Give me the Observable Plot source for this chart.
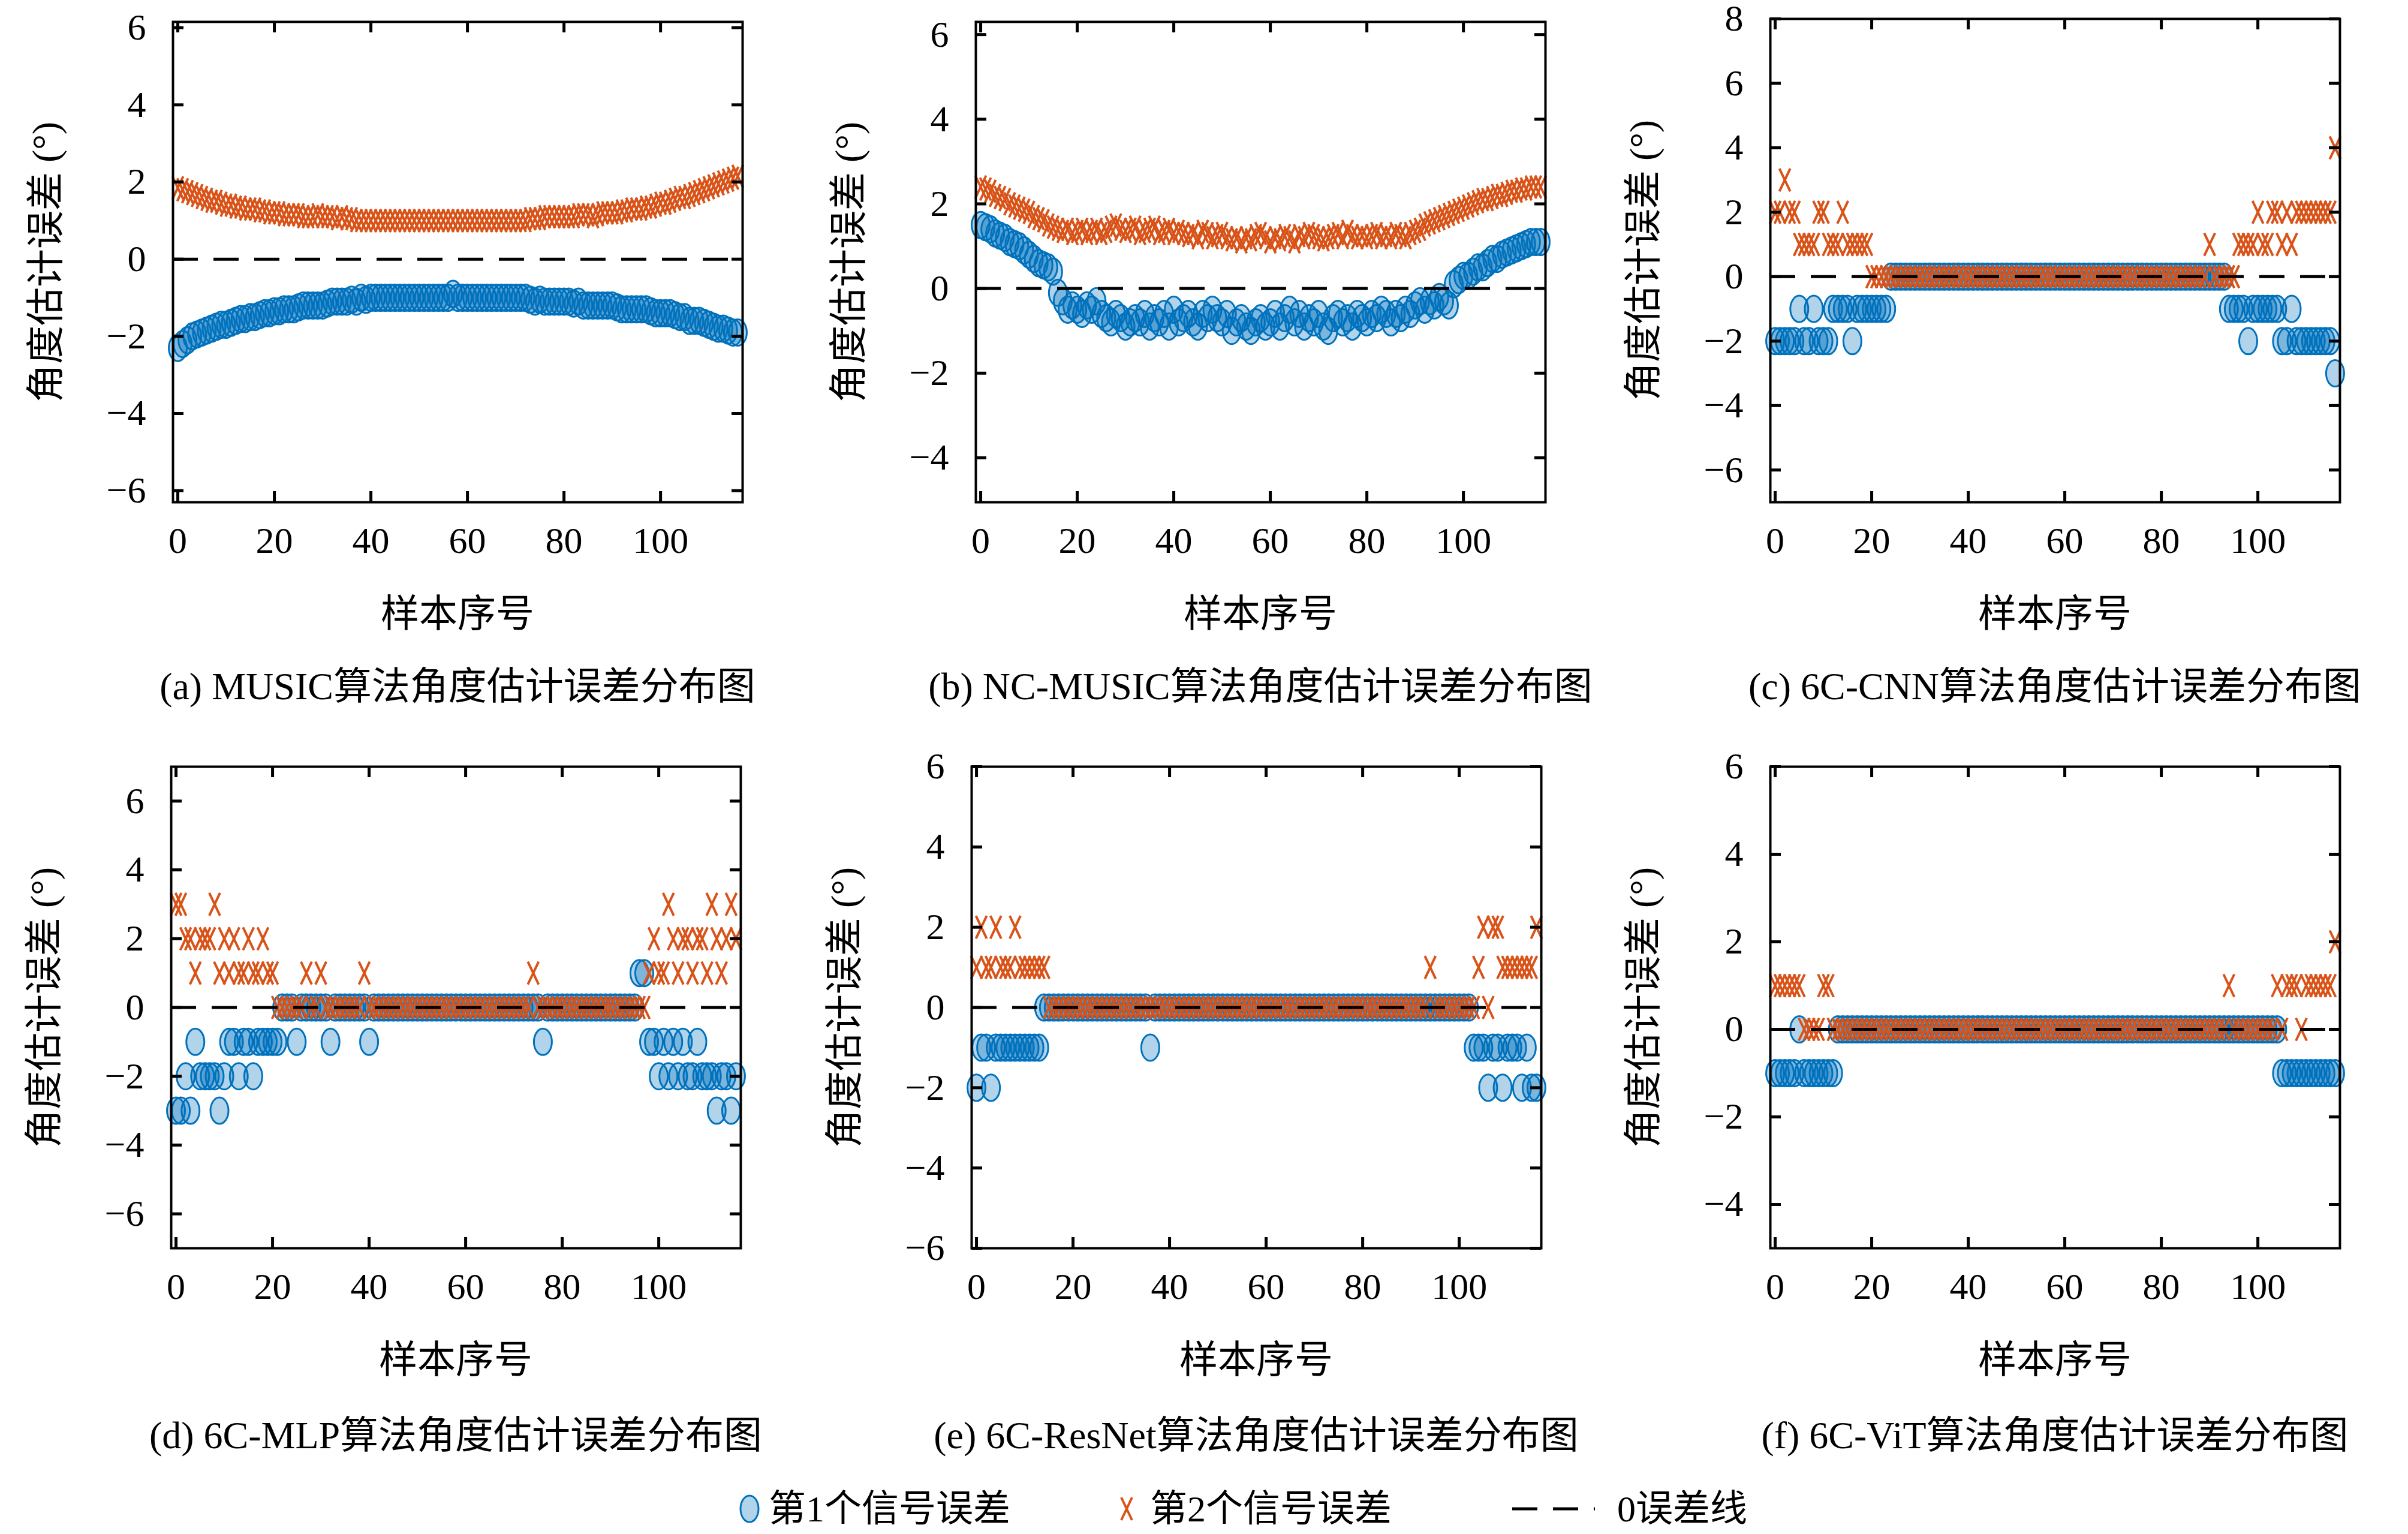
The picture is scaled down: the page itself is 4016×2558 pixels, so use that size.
<!DOCTYPE html>
<html><head><meta charset="utf-8">
<script src="https://cdn.jsdelivr.net/npm/d3@7"></script>
<script src="https://cdn.jsdelivr.net/npm/@observablehq/plot@0.6"></script>
<style>
body{margin:0;background:#fff;}
#root{position:relative;width:4016px;height:2558px;font-family:"Liberation Serif","Noto Sans CJK SC",serif;color:#000;}
.t{position:absolute;white-space:nowrap;font-size:64px;line-height:1;transform:translate(-50%,-50%);}
.p{position:absolute;}
</style></head><body><div id="root"></div>
<script>
const xTicks = [0,20,40,60,80,100];
const a1 = [-2.3,-2.2,-2.1,-2.0,-1.95,-1.9,-1.85,-1.8,-1.75,-1.7,
-1.7,-1.65,-1.6,-1.55,-1.55,-1.5,-1.5,-1.45,-1.4,-1.4,
-1.35,-1.35,-1.3,-1.3,-1.3,-1.25,-1.2,-1.2,-1.2,-1.2,
-1.2,-1.15,-1.1,-1.1,-1.1,-1.1,-1.05,-1.1,-1.0,-1.05,
-1.0,-1.0,-1.0,-1.0,-1.0,-1.0,-1.0,-1.0,-1.0,-1.0,
-1.0,-1.0,-1.0,-1.0,-1.0,-1.0,-1.0,-0.9,-1.0,-1.0,
-1.0,-1.0,-1.0,-1.0,-1.0,-1.0,-1.0,-1.0,-1.0,-1.0,
-1.0,-1.0,-1.0,-1.05,-1.1,-1.05,-1.1,-1.1,-1.1,-1.1,
-1.1,-1.1,-1.15,-1.1,-1.2,-1.2,-1.2,-1.2,-1.2,-1.2,
-1.2,-1.25,-1.3,-1.3,-1.3,-1.3,-1.3,-1.3,-1.35,-1.4,
-1.4,-1.4,-1.4,-1.45,-1.5,-1.5,-1.6,-1.6,-1.6,-1.65,
-1.7,-1.75,-1.8,-1.8,-1.85,-1.9,-1.9];
const a2 = [1.85,1.8,1.75,1.7,1.65,1.6,1.55,1.5,1.5,1.45,
1.4,1.4,1.35,1.35,1.3,1.3,1.3,1.25,1.25,1.2,
1.2,1.2,1.15,1.15,1.15,1.15,1.1,1.1,1.1,1.15,
1.1,1.1,1.1,1.05,1.1,1.05,1.05,1.0,1.0,1.0,
1.0,1.0,1.0,1.0,1.0,1.0,1.0,1.0,1.0,1.0,
1.0,1.0,1.0,1.0,1.0,1.0,1.0,1.0,1.0,1.0,
1.0,1.0,1.0,1.0,1.0,1.0,1.0,1.0,1.0,1.0,
1.0,1.0,1.0,1.05,1.05,1.05,1.1,1.1,1.1,1.1,
1.1,1.1,1.1,1.15,1.15,1.15,1.1,1.15,1.2,1.2,
1.2,1.2,1.25,1.25,1.3,1.3,1.3,1.35,1.35,1.4,
1.45,1.45,1.5,1.55,1.6,1.6,1.65,1.7,1.75,1.8,
1.85,1.9,1.95,2.0,2.05,2.1,2.15];
const b1 = [1.5,1.45,1.4,1.3,1.25,1.2,1.1,1.05,1.0,0.9,
0.8,0.7,0.6,0.55,0.5,0.4,-0.1,-0.3,-0.5,-0.4,
-0.5,-0.6,-0.4,-0.5,-0.3,-0.6,-0.7,-0.8,-0.6,-0.7,
-0.9,-0.8,-0.7,-0.8,-0.6,-0.9,-0.7,-0.8,-0.6,-0.9,
-0.5,-0.8,-0.7,-0.6,-0.8,-0.9,-0.6,-0.7,-0.5,-0.7,
-0.8,-0.6,-1.0,-0.8,-0.7,-0.9,-1.0,-0.8,-0.7,-0.9,
-0.8,-0.6,-0.9,-0.7,-0.5,-0.8,-0.6,-0.9,-0.7,-0.8,
-0.6,-0.9,-1.0,-0.7,-0.6,-0.8,-0.7,-0.9,-0.6,-0.7,
-0.8,-0.6,-0.7,-0.5,-0.6,-0.8,-0.6,-0.7,-0.5,-0.6,
-0.4,-0.3,-0.5,-0.3,-0.4,-0.2,-0.3,-0.4,0.1,0.2,
0.3,0.3,0.4,0.5,0.5,0.6,0.7,0.7,0.8,0.85,
0.9,0.95,1.0,1.05,1.1,1.1,1.1];
const b2 = [2.4,2.35,2.3,2.2,2.15,2.1,2.0,1.95,1.9,1.85,
1.8,1.7,1.65,1.6,1.5,1.45,1.4,1.35,1.4,1.3,
1.35,1.4,1.3,1.35,1.4,1.3,1.35,1.45,1.5,1.4,
1.35,1.4,1.45,1.3,1.35,1.4,1.45,1.3,1.35,1.4,
1.3,1.35,1.3,1.25,1.3,1.2,1.35,1.3,1.2,1.25,
1.3,1.2,1.15,1.2,1.1,1.2,1.15,1.25,1.3,1.2,
1.1,1.2,1.15,1.25,1.2,1.1,1.25,1.2,1.3,1.25,
1.2,1.15,1.2,1.25,1.3,1.2,1.35,1.25,1.2,1.25,
1.2,1.25,1.3,1.2,1.25,1.2,1.3,1.25,1.2,1.3,
1.35,1.4,1.5,1.55,1.6,1.65,1.7,1.75,1.8,1.85,
1.9,1.95,2.0,2.05,2.1,2.1,2.15,2.2,2.2,2.25,
2.3,2.3,2.35,2.35,2.4,2.4,2.4];
const c1 = [-2,-2,-2,-2,-2,-1,-2,-2,-1,-2,
-2,-2,-1,-1,-1,-1,-2,-1,-1,-1,
-1,-1,-1,-1,0,0,0,0,0,0,
0,0,0,0,0,0,0,0,0,0,
0,0,0,0,0,0,0,0,0,0,
0,0,0,0,0,0,0,0,0,0,
0,0,0,0,0,0,0,0,0,0,
0,0,0,0,0,0,0,0,0,0,
0,0,0,0,0,0,0,0,0,0,
0,0,0,0,-1,-1,-1,-1,-2,-1,
-1,-1,-1,-1,-1,-2,-2,-1,-2,-2,
-2,-2,-2,-2,-2,-2,-3];
const c2 = [2,2,3,2,2,1,1,1,1,2,
2,1,1,1,2,1,1,1,1,1,
0,0,0,0,0,0,0,0,0,0,
0,0,0,0,0,0,0,0,0,0,
0,0,0,0,0,0,0,0,0,0,
0,0,0,0,0,0,0,0,0,0,
0,0,0,0,0,0,0,0,0,0,
0,0,0,0,0,0,0,0,0,0,
0,0,0,0,0,0,0,0,0,0,
1,0,0,0,0,0,1,1,1,1,
2,1,1,2,2,1,2,1,2,2,
2,2,2,2,2,2,4];
const d1 = [-3,-3,-2,-3,-1,-2,-2,-2,-2,-3,
-2,-1,-1,-2,-1,-1,-2,-1,-1,-1,
-1,-1,0,0,0,-1,0,0,0,0,
0,0,-1,0,0,0,0,0,0,0,
-1,0,0,0,0,0,0,0,0,0,
0,0,0,0,0,0,0,0,0,0,
0,0,0,0,0,0,0,0,0,0,
0,0,0,0,0,0,-1,0,0,0,
0,0,0,0,0,0,0,0,0,0,
0,0,0,0,0,0,1,1,-1,-1,
-2,-1,-2,-1,-2,-1,-2,-2,-1,-2,
-2,-2,-3,-2,-2,-3,-2];
const d2 = [3,3,2,2,1,2,2,2,3,1,
2,1,2,1,1,2,1,1,2,1,
1,0,0,0,0,0,0,1,0,0,
1,0,0,0,0,0,0,0,0,1,
0,0,0,0,0,0,0,0,0,0,
0,0,0,0,0,0,0,0,0,0,
0,0,0,0,0,0,0,0,0,0,
0,0,0,0,1,0,0,0,0,0,
0,0,0,0,0,0,0,0,0,0,
0,0,0,0,0,0,0,0,1,2,
1,1,3,2,1,2,2,1,2,2,
1,3,2,1,2,3,2];
const e1 = [-2,-1,-1,-2,-1,-1,-1,-1,-1,-1,
-1,-1,-1,-1,0,0,0,0,0,0,
0,0,0,0,0,0,0,0,0,0,
0,0,0,0,0,0,-1,0,0,0,
0,0,0,0,0,0,0,0,0,0,
0,0,0,0,0,0,0,0,0,0,
0,0,0,0,0,0,0,0,0,0,
0,0,0,0,0,0,0,0,0,0,
0,0,0,0,0,0,0,0,0,0,
0,0,0,0,0,0,0,0,0,0,
0,0,0,-1,-1,-1,-2,-1,-1,-2,
-1,-1,-1,-2,-1,-2,-2];
const e2 = [1,2,1,1,2,1,1,1,2,1,
1,1,1,1,1,0,0,0,0,0,
0,0,0,0,0,0,0,0,0,0,
0,0,0,0,0,0,0,0,0,0,
0,0,0,0,0,0,0,0,0,0,
0,0,0,0,0,0,0,0,0,0,
0,0,0,0,0,0,0,0,0,0,
0,0,0,0,0,0,0,0,0,0,
0,0,0,0,0,0,0,0,0,0,
0,0,0,0,1,0,0,0,0,0,
0,0,0,0,1,2,0,2,2,1,
1,1,1,1,1,1,2];
const f1 = [-1,-1,-1,-1,-1,0,-1,-1,-1,-1,
-1,-1,-1,0,0,0,0,0,0,0,
0,0,0,0,0,0,0,0,0,0,
0,0,0,0,0,0,0,0,0,0,
0,0,0,0,0,0,0,0,0,0,
0,0,0,0,0,0,0,0,0,0,
0,0,0,0,0,0,0,0,0,0,
0,0,0,0,0,0,0,0,0,0,
0,0,0,0,0,0,0,0,0,0,
0,0,0,0,0,0,0,0,0,0,
0,0,0,0,0,-1,-1,-1,-1,-1,
-1,-1,-1,-1,-1,-1,-1];
const f2 = [1,1,1,1,1,1,0,0,0,0,
1,1,0,0,0,0,0,0,0,0,
0,0,0,0,0,0,0,0,0,0,
0,0,0,0,0,0,0,0,0,0,
0,0,0,0,0,0,0,0,0,0,
0,0,0,0,0,0,0,0,0,0,
0,0,0,0,0,0,0,0,0,0,
0,0,0,0,0,0,0,0,0,0,
0,0,0,0,0,0,0,0,0,0,
0,0,0,0,1,0,0,0,0,0,
0,0,0,0,1,0,1,1,1,0,
1,1,1,1,1,1,2];

const captions = ["(a) MUSIC算法角度估计误差分布图","(b) NC-MUSIC算法角度估计误差分布图","(c) 6C-CNN算法角度估计误差分布图",
 "(d) 6C-MLP算法角度估计误差分布图","(e) 6C-ResNet算法角度估计误差分布图","(f) 6C-ViT算法角度估计误差分布图"];
const yLabel = "角度估计误差 (°)", xLabel = "样本序号";
const legendLabels = ["第1个信号误差","第2个信号误差","0误差线"];

const BLUE = "#0072BD", ORANGE = "#D95319";
const ellipse = {draw(ctx){ const rx=15, ry=22, k=0.5523;
  ctx.moveTo(rx,0);
  ctx.bezierCurveTo(rx,k*ry,k*rx,ry,0,ry);
  ctx.bezierCurveTo(-k*rx,ry,-rx,k*ry,-rx,0);
  ctx.bezierCurveTo(-rx,-k*ry,-k*rx,-ry,0,-ry);
  ctx.bezierCurveTo(k*rx,-ry,rx,-k*ry,rx,0); ctx.closePath();}};
const cross = {draw(ctx){ ctx.moveTo(-9,-19); ctx.lineTo(9,19); ctx.moveTo(9,-19); ctx.lineTo(-9,19);}};

const panels = [
 {s1:a1,s2:a2,yd:[-6.3,6.15],yt:[-6,-4,-2,0,2,4,6],L:288,T:36,B:837},
 {s1:b1,s2:b2,yd:[-5.05,6.3],yt:[-4,-2,0,2,4,6],L:1627,T:36,B:837},
 {s1:c1,s2:c2,yd:[-7,8],yt:[-6,-4,-2,0,2,4,6,8],L:2952,T:31,B:837},
 {s1:d1,s2:d2,yd:[-7,7],yt:[-6,-4,-2,0,2,4,6],L:285,T:1278,B:2081},
 {s1:e1,s2:e2,yd:[-6,6],yt:[-6,-4,-2,0,2,4,6],L:1620,T:1278,B:2081},
 {s1:f1,s2:f2,yd:[-5,6],yt:[-4,-2,0,2,4,6],L:2952,T:1278,B:2081}
];
const root = document.getElementById("root");
const W = 950, mL = 240, mR = 40, mT = 50, mB = 140;
function addText(txt,x,y,rot){const d=document.createElement("div");d.className="t";d.textContent=txt;
 d.style.left=x+"px";d.style.top=y+"px"; if(rot) d.style.transform="translate(-50%,-50%) rotate(-90deg)"; root.appendChild(d);}
panels.forEach((p,i)=>{
  const H = p.B - p.T;
  const pts1 = p.s1.map((v,j)=>({x:j,y:v})), pts2 = p.s2.map((v,j)=>({x:j,y:v}));
  const chart = Plot.plot({
    width: W+mL+mR, height: H+mT+mB, marginLeft:mL, marginRight:mR, marginTop:mT, marginBottom:mB,
    style:{fontSize:"62px",fontFamily:'"Liberation Serif","Noto Sans CJK SC",serif',background:"transparent",overflow:"visible"},
    x:{domain:[-1,117]}, y:{domain:p.yd},
    marks:[
      Plot.dot(pts1,{x:"x",y:"y",symbol:ellipse,fill:BLUE,fillOpacity:0.3,stroke:BLUE,strokeWidth:3}),
      Plot.dot(pts2,{x:"x",y:"y",symbol:cross,fill:"none",stroke:ORANGE,strokeWidth:4}),
      Plot.ruleY([0],{stroke:"#000",strokeWidth:5,strokeDasharray:"42,26"}),
      Plot.tickY(p.yt,{y:d=>d,insetRight:W-18,stroke:"#000",strokeWidth:5}),
      Plot.tickY(p.yt,{y:d=>d,insetLeft:W-18,stroke:"#000",strokeWidth:5}),
      Plot.tickX(xTicks,{x:d=>d,insetTop:H-18,stroke:"#000",strokeWidth:5}),
      Plot.tickX(xTicks,{x:d=>d,insetBottom:H-18,stroke:"#000",strokeWidth:5}),
      Plot.axisY({ticks:p.yt,tickSize:0,tickPadding:45,label:null}),
      Plot.axisX({ticks:xTicks,tickSize:0,tickPadding:40,label:null}),
      Plot.frame({stroke:"#000",strokeWidth:4})
    ]
  });
  chart.classList.add("p");
  chart.style.left=(p.L-mL)+"px"; chart.style.top=(p.T-mT)+"px";
  root.appendChild(chart);
  const cx = p.L+W/2;
  addText(xLabel,cx,p.B+187);
  addText(yLabel,p.L-211,(p.T+p.B)/2,true);
  addText(captions[i],cx,i<3?1145:2394);
});
const LY = 2516;
const lg=document.createElement("div");lg.style.cssText="position:absolute;left:0;top:0;width:4016px;height:2558px;pointer-events:none";
lg.innerHTML=`<svg width="4016" height="2558" style="position:absolute;left:0;top:0">
<ellipse cx="1250" cy="${LY}" rx="15" ry="22" fill="${BLUE}" fill-opacity="0.3" stroke="${BLUE}" stroke-width="3"/>
<path d="M1870,${LY-19}L1888,${LY+19}M1888,${LY-19}L1870,${LY+19}" stroke="${ORANGE}" stroke-width="4" fill="none"/>
<line x1="2522" y1="${LY}" x2="2660" y2="${LY}" stroke="#000" stroke-width="5" stroke-dasharray="42,26"/></svg>`;
root.appendChild(lg);
[[legendLabels[0],1282],[legendLabels[1],1918],[legendLabels[2],2697]].forEach(([t,x])=>{
 const d=document.createElement("div");d.className="t";d.textContent=t;d.style.left=x+"px";d.style.top=LY+"px";d.style.fontSize="62px";d.style.transform="translate(0,-50%)";root.appendChild(d);});
</script></body></html>
